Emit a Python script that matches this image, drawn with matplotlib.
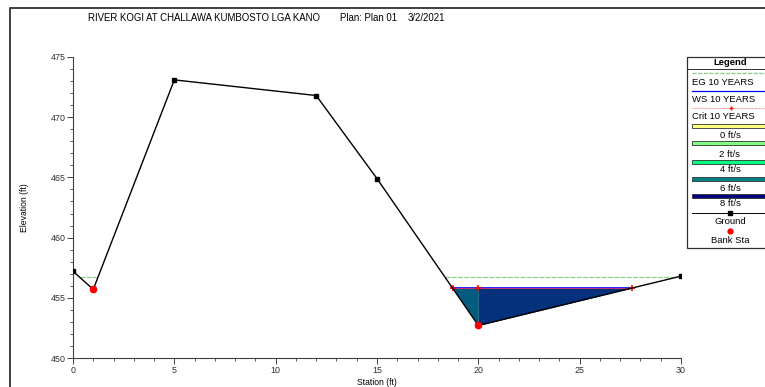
import matplotlib
matplotlib.use("Agg")
import matplotlib.pyplot as plt
import numpy as np
from matplotlib.patches import Rectangle

plt.rcParams['font.family'] = ['Liberation Sans', 'DejaVu Sans']

# cross section data
station = [0, 1, 5, 12, 15, 20, 30]
ground_elev = [457.2, 455.7, 473.1, 471.8, 464.9, 452.7, 456.8]
bank_sta = [1, 20]
ws_elev = 455.8     # WS 10 YEARS (crit is the same)
eg_elev = 456.7     # EG 10 YEARS

title_parts = ["RIVER KOGI AT CHALLAWA KUMBOSTO LGA KANO", "Plan: Plan 01", "3/2/2021"]
legend_rows = ["EG 10 YEARS", "WS 10 YEARS", "Crit 10 YEARS"]
vel_labels = ["0 ft/s", "2 ft/s", "4 ft/s", "6 ft/s", "8 ft/s"]
vel_colors = ["#ffff80", "#80ff80", "#00ff80", "#008080", "#000080"]


def crossings(x, y, level):
    """ stations where the ground line crosses a water level """
    out = []
    for i in range(len(x) - 1):
        y0, y1 = y[i] - level, y[i + 1] - level
        if y0 * y1 < 0:
            out.append(x[i] + (x[i + 1] - x[i]) * y0 / (y0 - y1))
    return out


def main():
    W, H = 765, 387
    fig = plt.figure(figsize=(W / 100, H / 100), dpi=100)

    # overlay in pixel coords for frame, title and legend
    ov = fig.add_axes([0, 0, 1, 1])
    ov.set_xlim(0, W)
    ov.set_ylim(H, 0)
    ov.axis('off')
    ov.plot([10, 10, W], [H, 8, 8], color='#404040', lw=1.4)

    tx = [88, 340, 408]
    for t, x in zip(title_parts, tx):
        ov.text(x, 18, t, fontsize=6.9, ha='left', va='center')

    ax = fig.add_axes([73 / W, 1 - 358 / H, (681 - 73) / W, (358 - 57) / H])
    st = np.array(station, float)
    gr = np.array(ground_elev, float)

    # water fill in main channel, split at bank station
    ws_x = crossings(station, ground_elev, ws_elev)
    lo, hi = ws_x[-2], ws_x[-1]
    pts_l = np.concatenate([[lo], st[(st > lo) & (st < bank_sta[1])], [bank_sta[1]]])
    pts_r = np.concatenate([[bank_sta[1]], st[(st > bank_sta[1]) & (st < hi)], [hi]])
    ax.fill_between(pts_l, np.interp(pts_l, st, gr), ws_elev, color='#035c7d', lw=0)
    ax.fill_between(pts_r, np.interp(pts_r, st, gr), ws_elev, color='#03317b', lw=0)

    # EG line
    eg_x = crossings(station, ground_elev, eg_elev)
    for a, b in [(eg_x[0], eg_x[1]), (eg_x[-2], eg_x[-1])]:
        ax.plot([a, b], [eg_elev, eg_elev], color='#8fd08f', lw=0.9, ls=(0, (4, 1)))

    # WS and crit lines
    ax.plot([lo, hi], [ws_elev, ws_elev], color='#0000ff', lw=1.2)
    ax.plot([lo, hi], [ws_elev, ws_elev], color='#ff4040', lw=0.5)
    ax.plot([lo, bank_sta[1], hi], [ws_elev] * 3, ls='none', marker='+',
            color='red', ms=4, mew=1.2)

    # ground
    ax.plot(st, gr, color='black', lw=1.0, marker='s', ms=3, zorder=4)
    ax.plot(bank_sta, np.interp(bank_sta, st, gr), ls='none', marker='o',
            color='red', ms=4.5, zorder=5)

    ax.set_xlim(0, 30)
    ax.set_ylim(450, 475)
    ax.set_xticks(range(0, 31, 5))
    ax.set_yticks(range(450, 476, 5))
    ax.set_xticks(range(0, 31), minor=True)
    ax.set_yticks(range(450, 476), minor=True)
    ax.spines['top'].set_visible(False)
    ax.spines['right'].set_visible(False)
    for s in ['left', 'bottom']:
        ax.spines[s].set_linewidth(0.8)
        ax.spines[s].set_color('#404040')
    ax.tick_params(which='major', length=4, width=0.7, labelsize=6.4,
                   colors='#404040', labelcolor='#303030', pad=1.5)
    ax.tick_params(which='minor', length=2.5, width=0.6, colors='#404040')
    ax.set_xlabel('Station (ft)', fontsize=6.2)
    ax.set_ylabel('Elevation (ft)', fontsize=6.2)
    ax.xaxis.set_label_coords(0.5, -0.065)
    ax.yaxis.set_label_coords(-0.072, 0.5)

    # legend box (clipped at the figure edge)
    fs = 6.8
    ov.add_patch(Rectangle((687, 57), 100, 191, fill=False, ec='#303030', lw=0.9))
    ov.text(730, 62.5, 'Legend', fontsize=fs, weight='bold', ha='center', va='center')
    ov.plot([687, W], [68.5, 68.5], color='#303030', lw=0.7)
    ov.plot([692, W], [72.7, 72.7], color='#8fd08f', lw=1.0, ls=(0, (3, 1)))
    ov.text(692, 82.5, legend_rows[0], fontsize=fs, va='center')
    ov.plot([692, W], [91.3, 91.3], color='#0000ff', lw=0.9)
    ov.text(692, 99.7, legend_rows[1], fontsize=fs, va='center')
    ov.plot([692, W], [108.3, 108.3], color='#ff4040', lw=0.5, ls=(0, (1, 1)))
    ov.plot([731], [108.3], marker='+', color='red', ms=3, mew=1)
    ov.text(692, 116.5, legend_rows[2], fontsize=fs, va='center')
    bar_y = [123.7, 140.7, 160.0, 177.3, 194.3]
    lab_y = [136.0, 154.5, 170.0, 188.5, 204.0]
    for by, ly, lab, c in zip(bar_y, lab_y, vel_labels, vel_colors):
        ov.add_patch(Rectangle((692, by), 100, 4, fc=c, ec='#303030', lw=0.6))
        ov.text(730, ly, lab, fontsize=fs, ha='center', va='center')
    ov.plot([692, W], [212.7, 212.7], color='black', lw=0.7)
    ov.plot([730], [212.7], marker='s', color='black', ms=2.5)
    ov.text(730, 221.7, 'Ground', fontsize=fs, ha='center', va='center')
    ov.plot([730], [231], marker='o', color='red', ms=3.5)
    ov.text(730, 240.3, 'Bank Sta', fontsize=fs, ha='center', va='center')

    fig.savefig('out.png', dpi=100)


if __name__ == "__main__":
    main()
